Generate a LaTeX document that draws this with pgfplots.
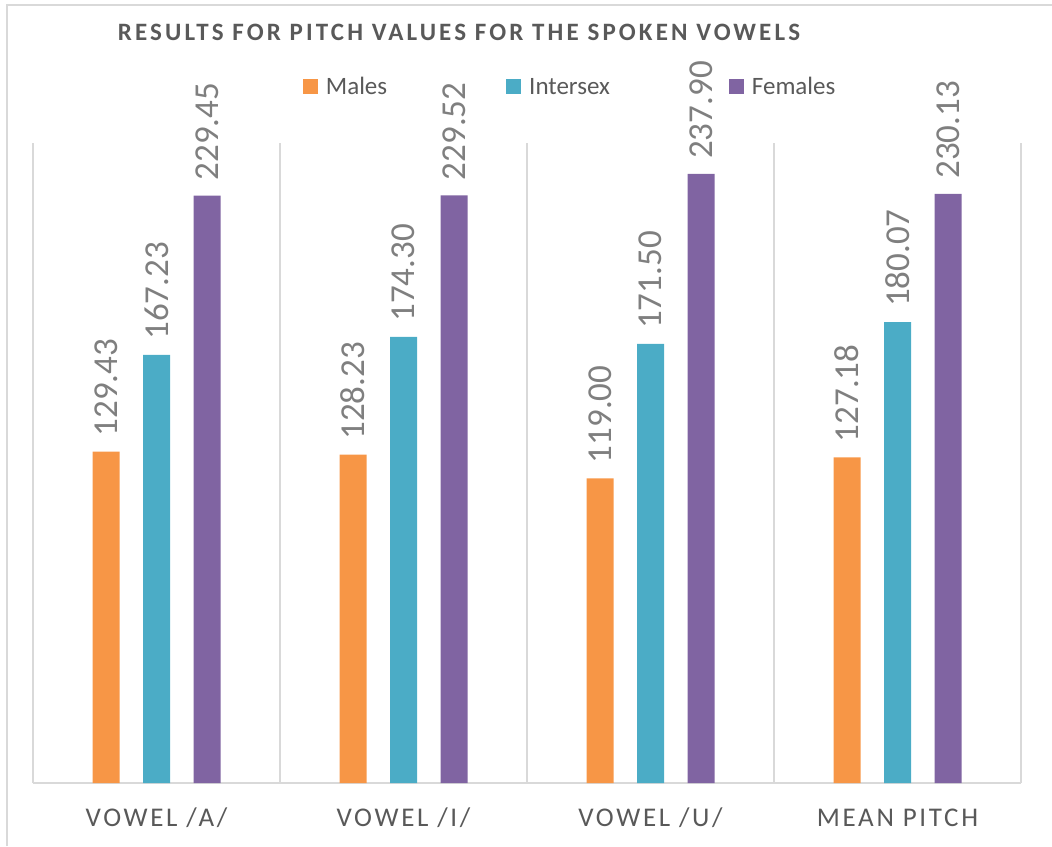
\documentclass[border=0pt]{standalone}
\usepackage{fontspec}
\setmainfont{Carlito}
\usepackage{pgfplots}
\pgfplotsset{compat=1.18}
\definecolor{cM}{HTML}{F79646}
\definecolor{cI}{HTML}{4BACC6}
\definecolor{cF}{HTML}{8064A2}
\definecolor{gridc}{HTML}{D9D9D9}
\definecolor{txt}{HTML}{595959}
\definecolor{lbl}{HTML}{7F7F7F}
\begin{document}
\begin{tikzpicture}[x=1pt,y=1pt]
\useasboundingbox (0,0) rectangle (1052,846);
\draw[gridc, line width=1.5pt] (7,0) -- (7,841) -- (1052,841);
\node[anchor=base, font=\fontsize{25}{25}\selectfont\bfseries\addfontfeature{LetterSpace=12.5}, text=txt] at (459,805) {RESULTS FOR PITCH VALUES FOR THE SPOKEN VOWELS};
\begin{axis}[
  at={(33pt,63pt)}, anchor=south west,
  scale only axis, width=988pt, height=640pt,
  xmin=-0.5, xmax=3.5, ymin=0, ymax=250,
  axis y line=none, axis x line*=bottom,
  x axis line style={gridc, line width=1.5pt, -},
  xtick={0,1,2,3},
  xticklabels={VOWEL /A/, VOWEL /I/, VOWEL /U/, MEAN PITCH},
  major tick length=0pt, minor tick length=0pt,
  minor xtick={-0.5,0.5,1.5,2.5,3.5},
  xminorgrids, minor grid style={gridc, line width=1.5pt},
  xticklabel style={anchor=base, yshift=-43pt, text=txt, font=\fontsize{27}{27}\selectfont\addfontfeature{LetterSpace=10}},
  ybar, bar width=27pt,
  legend image code/.code={\fill[#1] (0pt,-7.5pt) rectangle (15pt,7.5pt);},
  legend style={at={(0.273,1.0875)}, anchor=west, draw=none, fill=none, inner sep=0pt,
    legend columns=3, font=\fontsize{25}{25}\selectfont, text=txt,
    /tikz/every odd column/.append style={column sep=6pt},
    /tikz/every even column/.append style={column sep=117pt}},
  nodes near coords={\pgfmathprintnumber[fixed,fixed zerofill,precision=2,assume math mode=true]{\pgfplotspointmeta}},
  every node near coord/.append style={rotate=90, anchor=west, inner xsep=15pt, inner ysep=0pt,
    font=\fontsize{35}{35}\selectfont, text=lbl},
]
\addplot[fill=cM, draw=none, bar shift=-50.5pt] coordinates {(0,129.43) (1,128.23) (2,119.00) (3,127.18)};
\addplot[fill=cI, draw=none, bar shift=0pt] coordinates {(0,167.23) (1,174.30) (2,171.50) (3,180.07)};
\addplot[fill=cF, draw=none, bar shift=50.5pt] coordinates {(0,229.45) (1,229.52) (2,237.90) (3,230.13)};
\legend{Males, Intersex, Females}
\end{axis}
\end{tikzpicture}
\end{document}
